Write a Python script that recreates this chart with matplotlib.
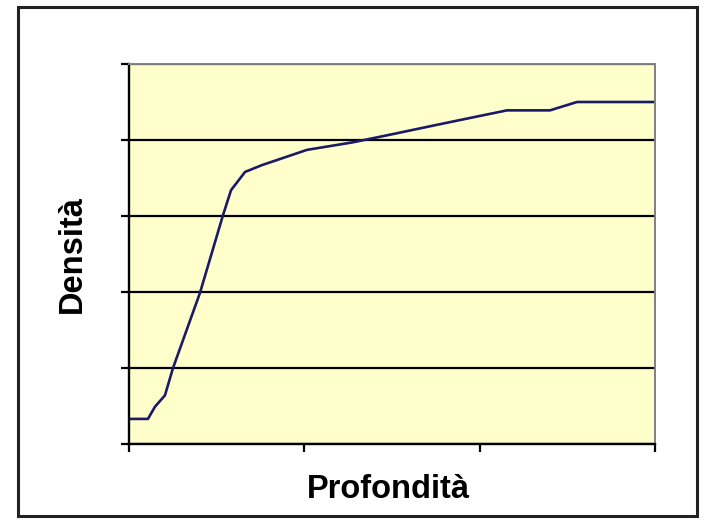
import numpy as np
import matplotlib.pyplot as plt
from matplotlib.patches import Rectangle

# dati (unita' di griglia, etichette non visibili)
profondita = [0.0, 0.108, 0.148, 0.205, 0.251, 0.405, 0.536, 0.582, 0.662, 0.759,
              1.015, 1.278, 1.489, 1.757, 1.945, 2.156, 2.401, 2.555, 3.0]
densita = [0.33, 0.33, 0.49, 0.64, 1.0, 1.99, 3.01, 3.34, 3.58, 3.67,
           3.87, 3.97, 4.07, 4.20, 4.29, 4.39, 4.39, 4.50, 4.50]
x_ticks = [0, 1, 2, 3]
y_ticks = [0, 1, 2, 3, 4, 5]

plt.rcParams['font.family'] = ['Liberation Sans', 'DejaVu Sans']

fig = plt.figure(figsize=(7.03, 5.2), dpi=100)
ax = fig.add_axes([129/703, 1 - 444/520, 526/703, 380/520])
ax.set_facecolor('#FFFFCC')

# cornice esterna
fig.patches.append(Rectangle((18/703, 4/520), 679/703, 509/520, transform=fig.transFigure,
                             fill=False, edgecolor='#222222', linewidth=2.2))

ax.plot(profondita, densita, color='#1a1a66', linewidth=1.9)

ax.set_xlim(0, 3)
ax.set_ylim(0, 5)
ax.set_xticks(x_ticks)
ax.set_yticks(y_ticks)
ax.set_xticklabels([''] * len(x_ticks))
ax.set_yticklabels([''] * len(y_ticks))
ax.tick_params(direction='out', length=6, width=1.6, color='black')
ax.yaxis.grid(True, color='black', linewidth=1.6)
ax.set_axisbelow(True)

for s in ['left', 'bottom']:
    ax.spines[s].set_color('black')
    ax.spines[s].set_linewidth(1.7)
for s in ['top', 'right']:
    ax.spines[s].set_color('#808080')
    ax.spines[s].set_linewidth(1.4)

fig.text(388/703, 1 - 489/520, 'Profondità', ha='center', va='center',
         fontsize=23.5, fontweight='bold')
fig.text(72/703, 1 - 254/520, 'Densità', ha='center', va='center',
         rotation=90, fontsize=23.5, fontweight='bold')

fig.savefig('out.png', dpi=100, facecolor='white')
